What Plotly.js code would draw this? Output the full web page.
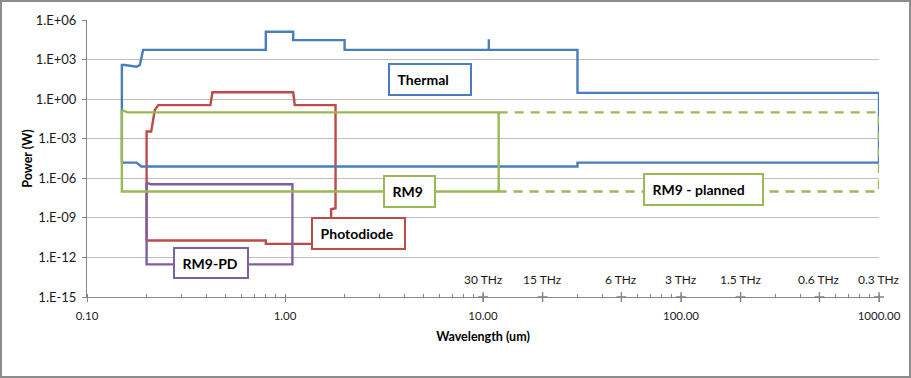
<!DOCTYPE html>
<html>
<head>
<meta charset="utf-8">
<script src="https://cdn.plot.ly/plotly-3.0.1.min.js"></script>
<style>
  html, body { margin: 0; padding: 0; background: #fff; }
  #wrap { position: relative; width: 911px; height: 378px; overflow: hidden; }
  #chart { position: absolute; left: 0; top: 0; width: 911px; height: 378px; }
  #frame { position: absolute; left: 0; top: 0; width: 911px; height: 378px; box-sizing: border-box;
           border: 2px solid #8c8c8c; pointer-events: none; }
</style>
</head>
<body>
<div id="wrap"><div id="chart"></div><div id="frame"></div></div>
<script>
// ---- data (wavelength in um, power in W) ----
const thermalX = [0.15, 0.15, 0.155, 0.178, 0.185, 0.192, 0.8, 0.8, 1.1, 1.1, 2.0, 2.0, 10.7, 10.7, 10.7, 30, 30, 1000, 1000, 30, 30, 0.188, 0.178, 0.15];
const thermalY = [1.55e-5, 390, 390, 290, 390, 5400, 5400, 1.3e5, 1.3e5, 3e4, 3e4, 5400, 5400, 3.5e4, 5400, 5400, 3, 3, 1.55e-5, 1.55e-5, 7.8e-6, 7.8e-6, 1.55e-5, 1.55e-5];

const rm9X = [0.15, 0.16, 12, 12, 0.15, 0.15];
const rm9Y = [0.15, 0.1, 0.1, 1e-7, 1e-7, 0.15];

const rm9PlannedX = [12, 1000, 1000, 12];
const rm9PlannedY = [0.1, 0.1, 1e-7, 1e-7];

const photodiodeX = [0.2, 0.2, 0.211, 0.22, 0.229, 0.42, 0.43, 1.1, 1.12, 1.8, 1.8, 1.71, 1.71, 0.8, 0.8, 0.2];
const photodiodeY = [1.9e-11, 3.5e-3, 3.5e-3, 0.15, 0.35, 0.35, 3.3, 3.3, 0.35, 0.35, 5.4e-9, 4.5e-9, 1.07e-11, 1.07e-11, 1.9e-11, 1.9e-11];

const rm9pdX = [0.2, 0.21, 1.09, 1.09, 0.2, 0.2];
const rm9pdY = [4.7e-7, 3.5e-7, 3.5e-7, 3e-13, 3e-13, 4.7e-7];

const thzLabels = ['30 THz', '15 THz', '6 THz', '3 THz', '1.5 THz', '0.6 THz', '0.3 THz'];
const thzWavelength = [10, 20, 50, 100, 200, 500, 1000];
const thzBase = [1e-15, 1e-15, 1e-15, 1e-15, 1e-15, 1e-15, 1e-15];

const xTickVals = [0.1, 1, 10, 100, 1000];
const xTickText = ['0.10', '1.00', '10.00', '100.00', '1000.00'];
const yTickVals = [1e6, 1e3, 1, 1e-3, 1e-6, 1e-9, 1e-12, 1e-15];
const yTickText = ['1.E+06', '1.E+03', '1.E+00', '1.E-03', '1.E-06', '1.E-09', '1.E-12', '1.E-15'];

const seriesNames = ['Thermal', 'RM9', 'RM9 - planned', 'Photodiode', 'RM9-PD'];

// ---- styles ----
const BLUE = '#4a7ebb', RED = '#be4b48', GREEN = '#98b954', PURPLE = '#7d60a0';
const FONT = 'Lato, "Open Sans", "Liberation Sans", sans-serif';
const LW = 2.4;

const traces = [
  {x: photodiodeX, y: photodiodeY, mode: 'lines', line: {color: RED, width: LW}, name: seriesNames[3]},
  {x: rm9pdX, y: rm9pdY, mode: 'lines', line: {color: PURPLE, width: LW}, name: seriesNames[4]},
  {x: thermalX, y: thermalY, mode: 'lines', line: {color: BLUE, width: LW}, name: seriesNames[0]},
  {x: rm9X, y: rm9Y, mode: 'lines', line: {color: GREEN, width: LW}, name: seriesNames[1]},
  {x: rm9PlannedX, y: rm9PlannedY, mode: 'lines', line: {color: GREEN, width: LW, dash: '9px,7px'}, name: seriesNames[2]},
  {x: thzWavelength, y: thzBase, mode: 'markers', cliponaxis: false,
   marker: {symbol: 'cross-thin', size: 7, line: {color: '#7f7f7f', width: 1.3}}, name: 'THz'}
];

function labelBox(text, color, cx, cy, w, h) {
  const pad = 4, bw = 2;
  return {
    x: cx, y: cy, xref: 'x', yref: 'y', showarrow: false,
    text: '&nbsp;<b>' + text + '</b>', align: 'left', valign: 'middle',
    font: {family: FONT, size: 14, color: '#000'},
    bgcolor: '#fff', bordercolor: color, borderwidth: bw, borderpad: pad,
    width: w - 2 * pad - 2 * bw, height: h - 2 * pad - 2 * bw
  };
}

const annotations = [
  labelBox(seriesNames[0], BLUE, 0.732, 1.455, 84, 33),
  labelBox(seriesNames[1], GREEN, 0.628, -6.98, 53, 33),
  labelBox(seriesNames[2], GREEN, 2.113, -6.88, 121, 33),
  labelBox(seriesNames[3], RED, 0.373, -10.16, 95, 33),
  labelBox(seriesNames[4], PURPLE, -0.374, -12.39, 76, 32)
];
thzLabels.forEach((t, i) => {
  annotations.push({
    x: Math.log10(thzWavelength[i]), y: Math.log10(thzBase[i]), xref: 'x', yref: 'y',
    showarrow: false, text: t, yshift: 18,
    font: {family: FONT, size: 12, color: '#1a1a1a'}
  });
});

const layout = {
  width: 911, height: 378,
  margin: {l: 87, r: 32, t: 20, b: 81},
  paper_bgcolor: '#fff', plot_bgcolor: '#fff',
  showlegend: false,
  font: {family: FONT, color: '#1a1a1a'},
  xaxis: {
    type: 'log', range: [-1, 3],
    tickmode: 'array', tickvals: xTickVals, ticktext: xTickText,
    tickfont: {family: FONT, size: 11.5, color: '#1a1a1a'},
    ticks: 'outside', ticklen: 4, tickcolor: '#868686',
    showline: true, linecolor: '#868686', linewidth: 1,
    showgrid: false, zeroline: false,
    minor: {dtick: 'D1', ticks: 'inside', ticklen: 3, tickcolor: '#868686', showgrid: false},
    ticklabelstandoff: 4,
    title: {text: '<b>Wavelength (um)</b>', font: {family: FONT, size: 12.5, color: '#000'}, standoff: 11}
  },
  yaxis: {
    type: 'log', range: [-15, 6],
    tickmode: 'array', tickvals: yTickVals, ticktext: yTickText,
    tickfont: {family: FONT, size: 13, color: '#1a1a1a'},
    ticks: 'outside', ticklen: 4, tickcolor: '#868686',
    showline: true, linecolor: '#868686', linewidth: 1,
    showgrid: true, gridcolor: '#bfbfbf', gridwidth: 1, zeroline: false,
    ticklabelstandoff: 3,
    title: {text: '<b>Power (W)</b>', font: {family: FONT, size: 12.5, color: '#000'}, standoff: 0}
  },
  annotations: annotations
};

Plotly.newPlot('chart', traces, layout, {displayModeBar: false, staticPlot: true});
</script>
</body>
</html>
